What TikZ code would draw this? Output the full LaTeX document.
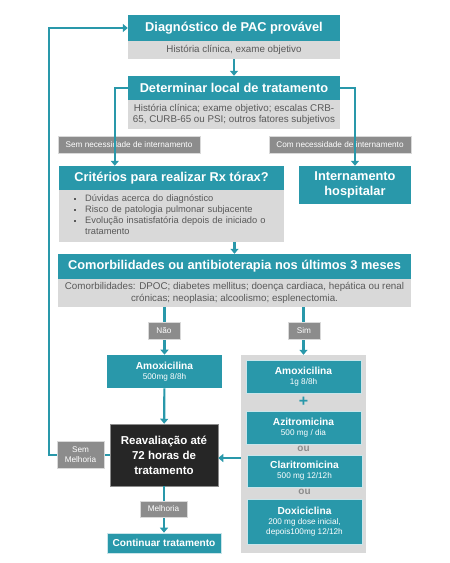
\documentclass[tikz,border=0pt]{standalone}
\usepackage{fontspec}
\setmainfont{Liberation Sans}
\usetikzlibrary{arrows.meta}
\definecolor{pacteal}{RGB}{41,152,170}
\definecolor{pacgray}{RGB}{217,217,217}
\definecolor{paclabel}{RGB}{140,140,140}
\definecolor{pactext}{RGB}{89,89,89}
\definecolor{pacdark}{RGB}{38,38,38}
\newcommand{\pacbullet}{\textcolor{pactext}{\rule[2pt]{2.2pt}{2.2pt}}}
\tikzset{
	hdr/.style={fill=pacteal,text=white,font=\bfseries\fontsize{12.8}{15}\selectfont,inner sep=0pt,align=center},
	body/.style={fill=pacgray,text=pactext,font=\fontsize{9.8}{11.5}\selectfont,inner sep=0pt,align=center},
	tag/.style={fill=paclabel,draw=pacgray,line width=0.4pt,text=white,font=\fontsize{8.2}{9.5}\selectfont,inner sep=0pt,align=center},
	drug/.style={fill=pacteal,draw=white!75!pacteal,line width=0.6pt,text=white,font=\fontsize{8.2}{10}\selectfont,inner sep=0pt,align=center,minimum width=115pt},
	sep/.style={text=paclabel,font=\bfseries\fontsize{10}{10}\selectfont,inner sep=0pt},
	link/.style={pacteal,line width=2.2pt,-{Triangle[length=5pt,width=8pt]}},
}

\begin{document}
\begin{tikzpicture}[x=1pt,y=-1pt]
\useasboundingbox (0,0) rectangle (450,563);
\coordinate (loop) at (49,0);
\node[hdr,minimum width=212pt,minimum height=26pt] (diag) at (234,28) {Diagnóstico de PAC provável};
\node[body,minimum width=212pt,minimum height=18pt] (diagb) at (234,50) {História clínica, exame objetivo};
\node[hdr,minimum width=212pt,minimum height=24pt] (local) at (234,88) {Determinar local de tratamento};
\node[body,minimum width=212pt,minimum height=29pt] (localb) at (234,114.5) {História clínica; exame objetivo; escalas CRB-\\65, CURB-65 ou PSI; outros fatores subjetivos};
\node[tag,minimum width=142pt,minimum height=17pt] (semint) at (129,144.5) {Sem necessidade de internamento};
\node[tag,minimum width=142pt,minimum height=17pt] (comint) at (340,144.5) {Com necessidade de internamento};
\node[hdr,minimum width=225pt,minimum height=24pt] (rx) at (171.5,178) {Critérios para realizar Rx tórax?};
\node[body,minimum height=52pt,text width=195pt,inner xsep=15pt,align=left,font=\fontsize{9.3}{11}\selectfont] (rxb) at (171.5,216) {%
\begin{tabular}{@{}l@{\hspace{9pt}}l@{}}
\pacbullet & Dúvidas acerca do diagnóstico\\
\pacbullet & Risco de patologia pulmonar subjacente\\
\pacbullet & Evolução insatisfatória depois de iniciado o\\
 & tratamento
\end{tabular}};
\node[hdr,minimum width=112pt,minimum height=38pt] (inter) at (355,185) {Internamento\\hospitalar};
\node[hdr,minimum width=353pt,minimum height=25pt] (com) at (234.5,266.5) {Comorbilidades ou antibioterapia nos últimos 3 meses};
\node[body,minimum width=353pt,minimum height=28pt] (comb) at (234.5,293) {Comorbilidades: DPOC; diabetes mellitus; doença cardiaca, hepática ou renal\\crónicas; neoplasia; alcoolismo; esplenectomia.};
\node[fill=pacgray,minimum width=125pt,minimum height=198pt,inner sep=0pt] (panel) at (303.5,454) {};
\node[drug,minimum height=33pt,draw=none] (amoxa) at (164.5,371.5) {{\bfseries\fontsize{10.2}{14}\selectfont Amoxicilina}\\500mg 8/8h};
\node[drug,minimum height=33pt] (amoxb) at (303.5,376.5) {{\bfseries\fontsize{10.2}{14}\selectfont Amoxicilina}\\1g 8/8h};
\node[text=pacteal,font=\bfseries\fontsize{16}{16}\selectfont,inner sep=0pt] (plus) at (303.5,402) {+};
\node[drug,minimum height=33pt] (azi) at (303.5,427.5) {{\bfseries\fontsize{10.2}{14}\selectfont Azitromicina}\\500 mg / dia};
\node[sep] (ou1) at (303.5,449) {ou};
\node[drug,minimum height=32pt] (clar) at (304.5,471) {{\bfseries\fontsize{10.2}{14}\selectfont Claritromicina}\\500 mg 12/12h};
\node[sep] (ou2) at (304.5,492) {ou};
\node[drug,minimum height=45pt] (doxi) at (304.5,521.5) {{\bfseries\fontsize{10.2}{14}\selectfont Doxiciclina}\\200 mg dose inicial,\\depois100mg 12/12h};
\node[hdr,fill=pacdark,draw=paclabel,line width=0.5pt,minimum width=108pt,minimum height=62pt,font=\bfseries\fontsize{11.5}{15}\selectfont] (reav) at (164,455) {Reavaliação até\\72 horas de\\tratamento};
\node[hdr,minimum width=114pt,minimum height=20pt,draw=white!75!pacteal,line width=0.6pt,font=\bfseries\fontsize{10.1}{11}\selectfont] (cont) at (164,543) {Continuar tratamento};
\draw[link] (diagb) -- (local);
\draw[link] (local.west) -| ([xshift=56pt]rx.north west);
\draw[link] (local.east) -| (inter.north);
\draw[link] (com.north |- rxb.south) -- (com.north);
\draw[link] (amoxa.north |- comb.south) -- (amoxa.north);
\draw[link] (panel.north |- comb.south) -- (panel.north);
\draw[link] (amoxa) -- (reav);
\draw[link] ([yshift=-4pt]panel.west) -- ([yshift=-4pt]panel.west -| reav.east);
\draw[link] (reav) -- (cont);
\draw[link] (reav.west) -- (reav.west -| loop) |- (diag.west);
\node[tag,minimum width=32pt,minimum height=17pt] (nao) at (164,330.5) {Não};
\node[tag,minimum width=32pt,minimum height=17pt] (sim) at (304,330.5) {Sim};
\node[tag,minimum width=47pt,minimum height=27pt,font=\fontsize{8.2}{9.8}\selectfont] (semmel) at (80.5,454.5) {Sem\\Melhoria};
\node[tag,minimum width=47pt,minimum height=16pt] (melh) at (163.5,509) {Melhoria};
\end{tikzpicture}
\end{document}
